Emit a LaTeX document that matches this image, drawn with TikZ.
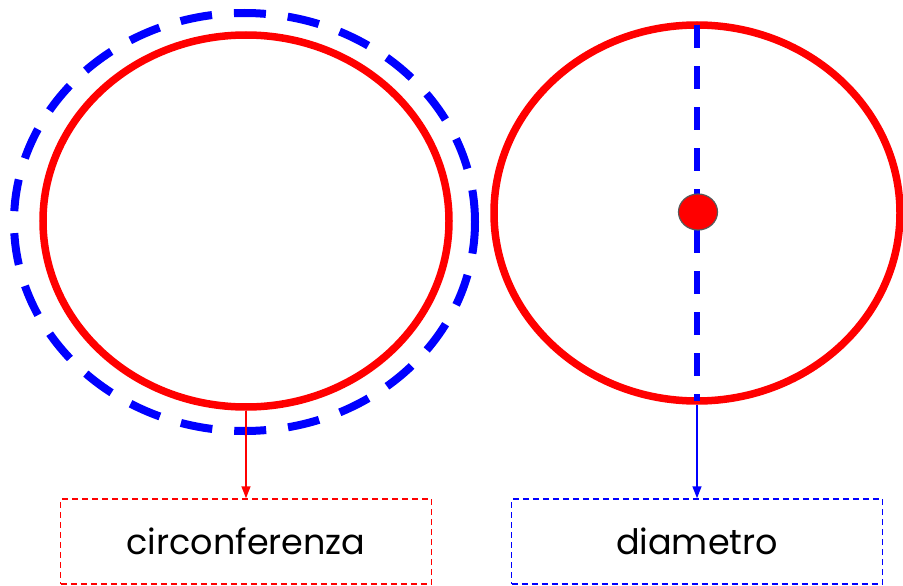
\documentclass[tikz,border=0pt]{standalone}
\usepackage{fontspec}
\setmainfont{Poppins}
\usetikzlibrary{shapes.geometric,arrows.meta}
\tikzset{
  rim/.style={ellipse, draw=red, line width=7.5pt, inner sep=0pt},
  ring/.style={ellipse, draw=blue, line width=8pt, inner sep=0pt,
    dash pattern=on 32pt off 22pt},
  chord/.style={draw=blue, line width=6.5pt, dash pattern=on 23pt off 18pt},
  centre dot/.style={ellipse, fill=red, draw=black!65, line width=1.2pt,
    minimum width=39pt, minimum height=36pt, inner sep=0pt},
  labelbox/.style={draw, line width=1.5pt, dash pattern=on 6pt off 4pt,
    minimum width=371pt, minimum height=85pt,
    font=\fontsize{35}{42}\selectfont},
  pointer/.style={line width=1.5pt, -{Triangle[length=12pt,width=9pt]}}
}

\begin{document}
\begin{tikzpicture}[x=1pt, y=-1pt]
\useasboundingbox (0,0) rectangle (903,586);
% left: circonferenza
\node[ring, minimum width=461pt, minimum height=418pt] (ringL) at (244.5,222) {};
\node[rim, minimum width=406pt, minimum height=372pt] (circL) at (246,221) {};
\node[labelbox, draw=red] (boxL) at (246,541.5) {circonferenza};
\draw[pointer, red] (circL.south) -- (boxL.north);
% right: diametro
\node[rim, minimum width=406pt, minimum height=376pt] (circR) at (697,213) {};
\draw[chord, shorten <=4pt, shorten >=4pt] (circR.north) -- (circR.south);
\node[centre dot] (centre) at (698,212) {};
\node[labelbox, draw=blue] (boxR) at (697,541.5) {diametro};
\draw[pointer, blue] (circR.south) -- (boxR.north);
\end{tikzpicture}
\end{document}
